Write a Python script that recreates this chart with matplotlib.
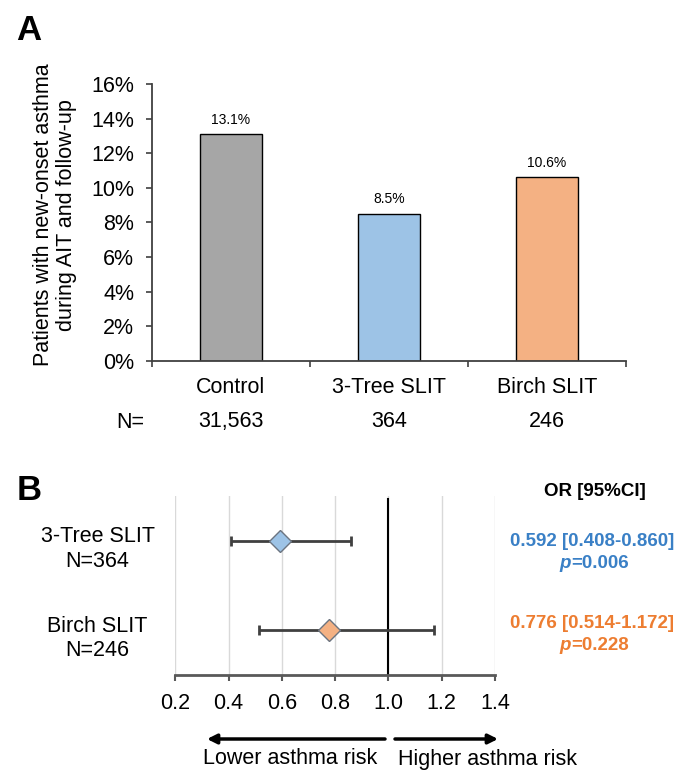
import numpy as np
import matplotlib.pyplot as plt

plt.rcParams['font.family'] = ['Liberation Sans', 'DejaVu Sans']

# Panel A: new-onset asthma rate per group
groups = ['Control', '3-Tree SLIT', 'Birch SLIT']
group_n = ['31,563', '364', '246']
asthma_pct = [13.1, 8.5, 10.6]
bar_colors = ['#a6a6a6', '#9dc3e6', '#f4b183']

# Panel B: odds ratios vs control
or_labels = ['3-Tree SLIT\nN=364', 'Birch SLIT\nN=246']
odds = [0.592, 0.776]
ci_low = [0.408, 0.514]
ci_high = [0.860, 1.172]
p_vals = ['0.006', '0.228']
marker_colors = ['#9dc3e6', '#f4b183']
text_colors = ['#3a80c6', '#ed7d31']

W, H = 692, 774
fig = plt.figure(figsize=(W / 100, H / 100), dpi=100)


def fx(px):
    return px / W


def fy(py):
    return 1 - py / H


# ---------- panel A ----------
axA = fig.add_axes([fx(151.7), fy(360.7), fx(626) - fx(151.7), fy(84) - fy(360.7)])
xpos = np.arange(len(groups))
axA.bar(xpos, asthma_pct, width=0.395, color=bar_colors, edgecolor='black', linewidth=1)
for xi, v in zip(xpos, asthma_pct):
    axA.annotate(f'{v}%', (xi, v), xytext=(0, 10.5), textcoords='offset points',
                 ha='center', va='center', fontsize=10)
axA.set_xlim(-0.5, 2.5)
axA.set_ylim(0, 16)
yt = np.arange(0, 17, 2)
axA.set_yticks(yt)
axA.set_yticklabels([f'{t}%' for t in yt], fontsize=15.5)
axA.set_xticks([-0.5, 0.5, 1.5, 2.5])
axA.set_xticklabels([])
axA.tick_params(direction='out', length=4.5, width=1.2, color='#404040', pad=8)
for s in ['top', 'right']:
    axA.spines[s].set_visible(False)
for s in ['left', 'bottom']:
    axA.spines[s].set_color('#404040')
    axA.spines[s].set_linewidth(1.3)

for xi, name, n in zip(xpos, groups, group_n):
    axA.annotate(name, (xi, 0), xytext=(0, -19.5), textcoords='offset points',
                 ha='center', va='center', fontsize=15.5)
    axA.annotate(n, (xi, 0), xytext=(0, -44), textcoords='offset points',
                 ha='center', va='center', fontsize=15.5)
fig.text(fx(130), fy(422), 'N=', ha='center', va='center', fontsize=15.5)

fig.text(fx(55), fy(215), 'Patients with new-onset asthma\nduring AIT and follow-up',
         rotation=90, ha='center', va='center', multialignment='center',
         fontsize=15.5, linespacing=1.15)

fig.text(fx(29), fy(31), 'A', ha='center', va='center', fontsize=25, fontweight='bold')
fig.text(fx(29), fy(490), 'B', ha='center', va='center', fontsize=25, fontweight='bold')

# ---------- panel B ----------
axB = fig.add_axes([fx(175.3), fy(675), fx(495) - fx(175.3), fy(496) - fy(675)])
axB.set_xlim(0.2, 1.4)
axB.set_ylim(0, 2)
xt = np.round(np.arange(0.2, 1.41, 0.2), 1)
axB.set_xticks(xt)
axB.set_xticklabels([f'{t:.1f}' for t in xt], fontsize=15.5)
axB.set_yticks([])
axB.xaxis.grid(True, color='#d9d9d9', linewidth=1)
axB.set_axisbelow(True)
for s in ['top', 'right', 'left']:
    axB.spines[s].set_visible(False)
axB.spines['bottom'].set_color('#595959')
axB.spines['bottom'].set_linewidth(2)
axB.tick_params(axis='x', direction='out', length=4, width=1.5, color='#595959', pad=9)
axB.axvline(1.0, ymax=(675 - 499) / 179, color='black', linewidth=1.5, zorder=2)

rows = [1.5, 0.5]
for i in range(len(odds)):
    axB.errorbar(odds[i], rows[i], xerr=[[odds[i] - ci_low[i]], [ci_high[i] - odds[i]]],
                 fmt='none', ecolor='#404040', elinewidth=2, capsize=3.5, capthick=2, zorder=3)
    axB.plot(odds[i], rows[i], marker='D', markersize=11, markerfacecolor=marker_colors[i],
             markeredgecolor='#6b7480', markeredgewidth=1, zorder=5)
    axB.annotate(or_labels[i], (0, rows[i]), xycoords=('axes fraction', 'data'),
                 xytext=(-56, -6), textcoords='offset points', ha='center', va='center',
                 fontsize=15.5, linespacing=1.2)

# right-hand OR text
fig.text(fx(595), fy(491), 'OR [95%CI]', ha='center', va='center', fontsize=13.5, fontweight='bold')
line1_y = [542, 623]
line2_y = [564, 646]
for i in range(len(odds)):
    fig.text(fx(592), fy(line1_y[i]), f'{odds[i]:.3f} [{ci_low[i]:.3f}-{ci_high[i]:.3f}]',
             ha='center', va='center', fontsize=13.5, fontweight='bold', color=text_colors[i])
    fig.text(fx(571), fy(line2_y[i]), 'p', ha='right', va='center', fontsize=13.5,
             fontweight='bold', fontstyle='italic', color=text_colors[i])
    fig.text(fx(571), fy(line2_y[i]), f'={p_vals[i]}', ha='left', va='center', fontsize=13.5,
             fontweight='bold', color=text_colors[i])

# direction arrows
arrow_kw = dict(arrowstyle='-|>', color='black', lw=2.5, mutation_scale=14, shrinkA=0, shrinkB=0)
fig.add_artist(plt.matplotlib.patches.FancyArrowPatch((fx(385), fy(739)), (fx(207), fy(739)),
                                                      transform=fig.transFigure, **arrow_kw))
fig.add_artist(plt.matplotlib.patches.FancyArrowPatch((fx(395), fy(739)), (fx(498), fy(739)),
                                                      transform=fig.transFigure, **arrow_kw))
fig.text(fx(290), fy(759), 'Lower asthma risk', ha='center', va='center', fontsize=15.5)
fig.text(fx(488), fy(759), 'Higher asthma risk', ha='center', va='center', fontsize=15.5)

fig.savefig('out.png', dpi=100)
